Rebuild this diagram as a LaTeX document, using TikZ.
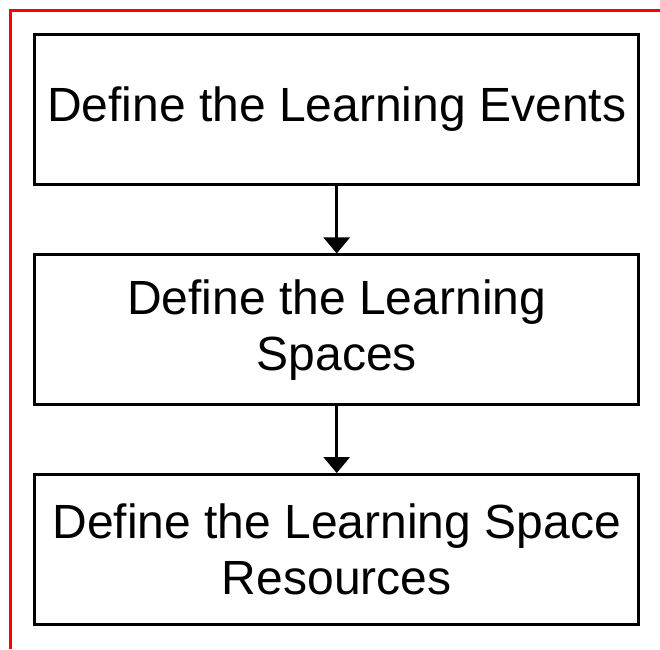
\documentclass[tikz,border=0pt]{standalone}
\usepackage{fontspec}
\setmainfont{Liberation Sans}
\usetikzlibrary{arrows.meta}

\tikzset{every picture/.style={line width=3pt}}
\tikzset{
	stepbox/.style={draw, rectangle, minimum width=603.5pt, minimum height=149.5pt,
		align=center, inner sep=0pt, font=\fontsize{48}{56}\selectfont},
	flow/.style={-{Triangle[width=26pt,length=16pt]}}}

\begin{document}
\begin{tikzpicture}[x=1pt,y=1pt,yscale=-1,xscale=1]
	\useasboundingbox (0,0) rectangle (660,649);

	% red frame (top and left edges only)
	\draw [red] (660,10) -- (10,10) -- (10,649);

	% Text Node
	\node [stepbox] (events) at (336.7,109.3) {Define the Learning Events};
	% Text Node
	\node [stepbox] (spaces) at (336.7,329.7) {Define the Learning\\Spaces};
	% Text Node
	\node [stepbox] (resources) at (336.7,549.3) {Define the Learning Space\\Resources};

	% Straight Lines
	\draw [flow] (events) -- (spaces);
	\draw [flow] (spaces) -- (resources);

\end{tikzpicture}
\end{document}
